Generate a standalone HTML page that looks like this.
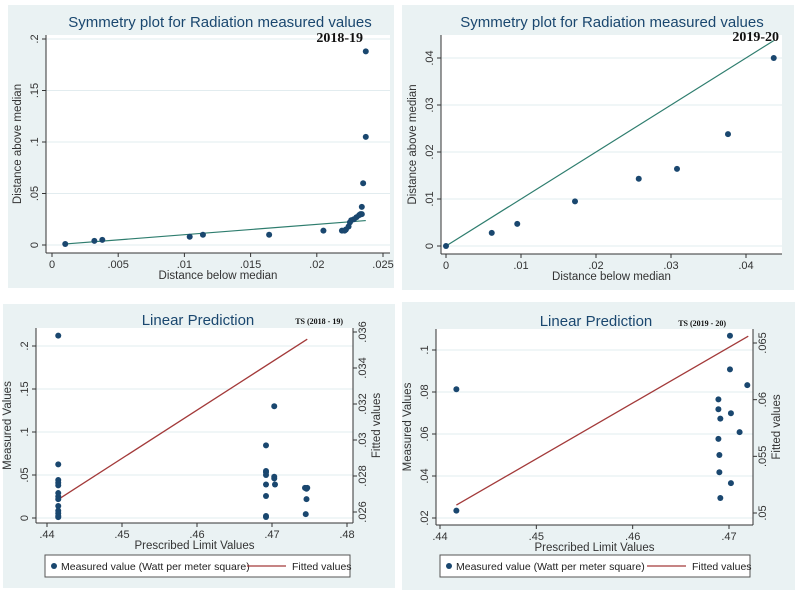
<!DOCTYPE html>
<html><head><meta charset="utf-8"><style>
body{margin:0;background:#fff;width:800px;height:596px;overflow:hidden;font-family:"Liberation Sans",sans-serif}
svg{display:block}
</style></head><body>
<svg id="s" width="800" height="596" xmlns="http://www.w3.org/2000/svg"></svg>
<script>
// ---- data ----
const tlX=[.0010,.0032,.0038,.0104,.0114,.0164,.0205,.0219,.0221,.0222,.0224,.0225,.0226,.0228,.0230,.0232,.0233,.0234,.0234,.0235,.0237,.0237];
const tlY=[.001,.004,.005,.008,.010,.010,.014,.014,.014,.015,.018,.022,.024,.025,.027,.029,.030,.030,.037,.060,.105,.188];
const tlXTicks=[0,.005,.01,.015,.02,.025];
const tlYTicks=[0,.05,.1,.15,.2];
const trX=[0,.0061,.0095,.0172,.0257,.0308,.0376,.0437];
const trY=[0,.0028,.0047,.0095,.0143,.0164,.0238,.040];
const trXTicks=[0,.01,.02,.03,.04];
const trYTicks=[0,.01,.02,.03,.04];
const blX=[.4415,.4415,.4415,.4415,.4415,.4415,.4415,.4415,.4415,.4415,.4415,.4415,.4415,.4692,.4692,.4692,.4692,.4692,.4692,.4692,.4692,.4703,.4703,.4703,.4704,.4744,.4746,.4746,.4745,.4747];
const blY=[.212,.0624,.0442,.041,.038,.029,.025,.022,.014,.0085,.0055,.0023,.001,.0845,.0546,.053,.050,.039,.0256,.0023,.0012,.130,.048,.046,.039,.035,.034,.022,.0045,.035];
const blFitX=[.4415,.4747];
const blFitY=[.0267,.0356];
const blXTicks=[.44,.45,.46,.47,.48];
const blYTicks=[0,.05,.1,.15,.2];
const blRTicks=[.026,.028,.03,.032,.034,.036];
const brX=[.4417,.4417,.4701,.4701,.4719,.4689,.4689,.4691,.4702,.4711,.4689,.469,.469,.4702,.4691];
const brY=[.0813,.0235,.1068,.0908,.0833,.0765,.0718,.0673,.0699,.0609,.0577,.0500,.0418,.0366,.0295];
const brFitX=[.4417,.4720];
const brFitY=[.0507,.0656];
const brXTicks=[.44,.45,.46,.47];
const brYTicks=[.02,.04,.06,.08,.1];
const brRTicks=[.05,.055,.06,.065];

const NS="http://www.w3.org/2000/svg";
const S=document.getElementById('s');
function el(tag,attrs,parent,txt){const e=document.createElementNS(NS,tag);for(const k in attrs)e.setAttribute(k,attrs[k]);if(txt!==undefined)e.textContent=txt;(parent||S).appendChild(e);return e;}
function fmt(v){let s=String(+v.toFixed(4));if(s.startsWith('0.'))s=s.slice(1);return s;}
const BLUE='#1a476f',GREEN='#2e7d6e',RED='#a33a3a',BG='#eaf2f3';

function panel(o){
  const g=el('g',{});
  
  
  const bg=el('rect',{x:o.px,y:o.py,width:o.pw,height:o.ph,fill:BG},g);
  
  const pa=el('rect',{x:o.ax,y:o.ay,width:o.aw,height:o.ah,fill:'#fff'},g);
  
  const sx=v=>o.x0p+(v-o.x0)*(o.x1p-o.x0p)/(o.x1-o.x0);
  const sy=v=>o.y0p+(v-o.y0)*(o.y1p-o.y0p)/(o.y1-o.y0);
  o.yTicks.forEach(t=>{const l=el('line',{x1:o.ax,x2:o.ax+o.aw,y1:sy(t),y2:sy(t),stroke:'#e2ecef','stroke-width':1},g);});
  const ax=el('g',{stroke:'#333','stroke-width':1},g);
  
  el('line',{x1:o.ax,x2:o.ax,y1:o.ay,y2:o.ay+o.ah},ax);
  el('line',{x1:o.ax,x2:o.ax+o.aw,y1:o.ay+o.ah,y2:o.ay+o.ah},ax);
  o.xTicks.forEach(t=>{const x=sx(t);el('line',{x1:x,x2:x,y1:o.ay+o.ah,y2:o.ay+o.ah+4},ax);
    const tx=el('text',{x:x,y:o.ay+o.ah+15,'font-size':11,'text-anchor':'middle',fill:'#333'},g,fmt(t));});
  o.yTicks.forEach(t=>{const y=sy(t);el('line',{x1:o.ax-4,x2:o.ax,y1:y,y2:y},ax);
    const tx=el('text',{x:o.ax-8,y:y,'font-size':11,'text-anchor':'middle',fill:'#333',transform:`rotate(-90 ${o.ax-8} ${y})`},g,fmt(t));});
  if(o.rTicks){
    const rx=o.ax+o.aw;
    el('line',{x1:rx,x2:rx,y1:o.ay,y2:o.ay+o.ah},ax);
    const sr=v=>o.r0p+(v-o.r0)*(o.r1p-o.r0p)/(o.r1-o.r0);
    o.sr=sr;
    o.rTicks.forEach(t=>{const y=sr(t);el('line',{x1:rx,x2:rx+4,y1:y,y2:y},ax);
      const tx=el('text',{x:rx+13,y:y,'font-size':11,'text-anchor':'middle',fill:'#333',transform:`rotate(-90 ${rx+13} ${y})`},g,fmt(t));});
    const rt=el('text',{x:rx+27,y:o.ay+o.ah/2,'font-size':11.5,'text-anchor':'middle',fill:'#333',transform:`rotate(-90 ${rx+27} ${o.ay+o.ah/2})`},g,'Fitted values');
    
  }
  const xt=el('text',{x:o.ax+o.aw/2,y:o.ay+o.ah+26,'font-size':11.5,'text-anchor':'middle',fill:'#333'},g,o.xTitle);
  
  const yx=o.ax-25,yy=o.ay+o.ah/2;
  const yt=el('text',{x:yx,y:yy,'font-size':11.5,'text-anchor':'middle',fill:'#333',transform:`rotate(-90 ${yx} ${yy})`},g,o.yTitle);
  
  const ti=el('text',{x:o.tx,y:o.ty,'font-size':15,'text-anchor':'middle',fill:BLUE},g,o.title);
  
  const tg=el('text',{x:o.tagx,y:o.tagy,'font-size':o.tagSize,'font-weight':'bold','text-anchor':'end','font-family':'Liberation Serif, serif',fill:'#111'},g,o.tag);
  
  if(o.diag){const l=el('line',{x1:sx(o.diag[0]),y1:sy(o.diag[0]),x2:sx(o.diag[1]),y2:sy(o.diag[1]),stroke:GREEN,'stroke-width':1.2},g);}
  if(o.fitX){const l=el('line',{x1:sx(o.fitX[0]),y1:o.sr(o.fitY[0]),x2:sx(o.fitX[1]),y2:o.sr(o.fitY[1]),stroke:RED,'stroke-width':1.3},g);}
  o.X.forEach((v,i)=>{const c=el('circle',{cx:sx(v),cy:sy(o.Y[i]),r:3,fill:BLUE},g);
    
    });
  if(o.legend){
    const lg=el('g',{},g);
    const L=o.legend;
    el('rect',{x:L.x,y:L.y,width:L.w,height:22,fill:'#fff',stroke:'#555','stroke-width':1},lg);
    el('circle',{cx:L.x+9,cy:L.y+11,r:3,fill:BLUE},lg);
    el('text',{x:L.x+16,y:L.y+15,'font-size':10.5,fill:'#222'},lg,'Measured value (Watt per meter square)');
    el('line',{x1:L.x+L.w-103,x2:L.x+L.w-64,y1:L.y+11,y2:L.y+11,stroke:RED,'stroke-width':1.3},lg);
    el('text',{x:L.x+L.w-58,y:L.y+15,'font-size':10.5,fill:'#222'},lg,'Fitted values');
  }
}
panel({name:'symmetry-plot-2018-19',px:8,py:5,pw:386,ph:283,ax:46,ay:35,aw:344,ah:218,
  x0:0,x1:.025,x0p:52,x1p:383,y0:0,y1:.2,y0p:245,y1p:39,xTicks:tlXTicks,yTicks:tlYTicks,
  X:tlX,Y:tlY,diag:[.0009,.0237],xTitle:'Distance below median',yTitle:'Distance above median',
  title:'Symmetry plot for Radiation measured values',tx:220,ty:27,tag:'2018-19',tagx:363,tagy:42,tagSize:14});
panel({name:'symmetry-plot-2019-20',px:402,py:5,pw:392,ph:285,ax:441,ay:35,aw:341,ah:219,
  x0:0,x1:.04,x0p:446,x1p:746,y0:0,y1:.04,y0p:246,y1p:58,xTicks:trXTicks,yTicks:trYTicks,
  X:trX,Y:trY,diag:[0,.0437],xTitle:'Distance below median',yTitle:'Distance above median',
  title:'Symmetry plot for Radiation measured values',tx:612,ty:27,tag:'2019-20',tagx:779,tagy:41,tagSize:14});
panel({name:'linear-prediction-2018-19',px:3,py:304,pw:392,ph:284,ax:36,ay:328,aw:317,ah:195,
  x0:.44,x1:.48,x0p:47,x1p:347,y0:0,y1:.2,y0p:518,y1p:346,r0:.026,r1:.036,r0p:512,r1p:332,
  xTicks:blXTicks,yTicks:blYTicks,rTicks:blRTicks,X:blX,Y:blY,fitX:blFitX,fitY:blFitY,
  xTitle:'Prescribed Limit Values',yTitle:'Measured Values',title:'Linear Prediction',tx:198,ty:325,
  tag:'TS (2018 - 19)',tagx:343,tagy:324,tagSize:8,legend:{x:45,y:555,w:305}});
panel({name:'linear-prediction-2019-20',px:402,py:302,pw:393,ph:288,ax:436,ay:329,aw:317,ah:196,
  x0:.44,x1:.47,x0p:440,x1p:729,y0:.02,y1:.1,y0p:518,y1p:350,r0:.05,r1:.065,r0p:513,r1p:343,
  xTicks:brXTicks,yTicks:brYTicks,rTicks:brRTicks,X:brX,Y:brY,fitX:brFitX,fitY:brFitY,
  xTitle:'Prescribed Limit Values',yTitle:'Measured Values',title:'Linear Prediction',tx:596,ty:326,
  tag:'TS (2019 - 20)',tagx:726,tagy:326,tagSize:8,legend:{x:440,y:555,w:310}});
</script>
</body></html>
